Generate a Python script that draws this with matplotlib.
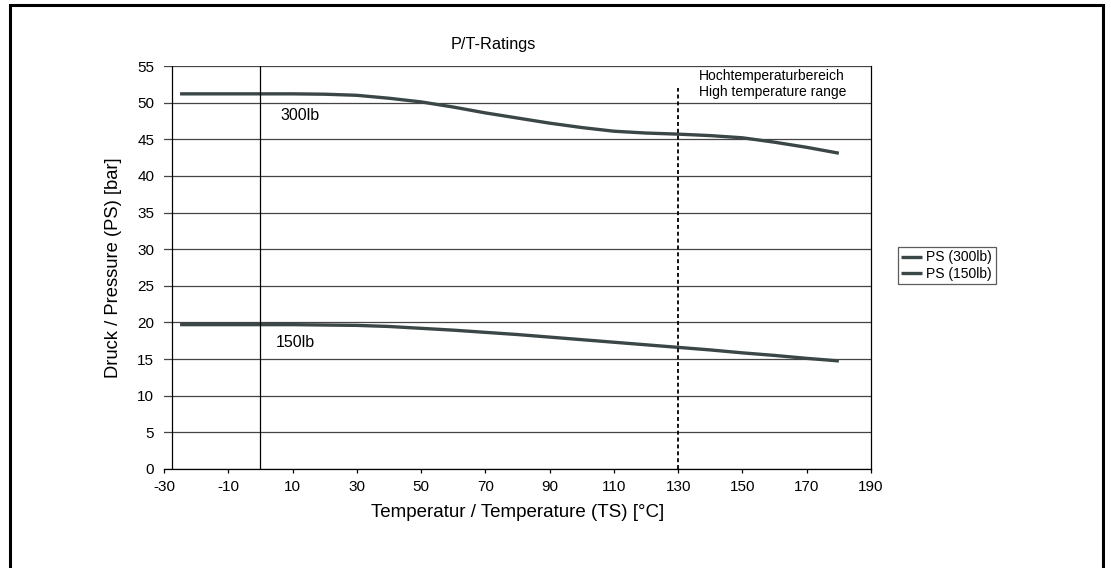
import matplotlib.pyplot as plt
from matplotlib.patches import Rectangle

plt.rcParams['font.family'] = ['Liberation Sans', 'DejaVu Sans']
plt.rcParams['axes.unicode_minus'] = False

# temperatures in degC
temps = [-25, -10, 0, 10, 20, 30, 40, 50, 60, 70, 80, 90, 100, 110, 120, 130, 140, 150, 160, 170, 180]
ps_300 = [51.2, 51.2, 51.2, 51.2, 51.15, 51.0, 50.6, 50.1, 49.4, 48.6, 47.9, 47.2, 46.6, 46.1, 45.85, 45.7, 45.5, 45.2, 44.6, 43.9, 43.1]
ps_150 = [19.7, 19.7, 19.7, 19.7, 19.65, 19.6, 19.45, 19.2, 18.95, 18.65, 18.35, 18.0, 17.65, 17.3, 16.95, 16.6, 16.25, 15.85, 15.5, 15.1, 14.75]
series_names = ["PS (300lb)", "PS (150lb)"]
xticks = list(range(-30, 191, 20))
yticks = list(range(0, 56, 5))

line_col = "#3b4746"

fig = plt.figure(figsize=(11.11, 5.68), dpi=100)
ax = fig.add_axes([164/1111, 1-469/568, (871-164)/1111, (469-66)/568])

l1, = ax.plot(temps, ps_300, color=line_col, lw=2.4, solid_capstyle='butt', label=series_names[0])
l2, = ax.plot(temps, ps_150, color=line_col, lw=2.4, solid_capstyle='butt', label=series_names[1])

ax.set_xlim(-30, 190)
ax.set_ylim(0, 55)
ax.set_xticks(xticks)
ax.set_yticks(yticks)
ax.grid(axis='y', color='#444444', lw=0.9)
ax.set_axisbelow(True)

# y axis crossing and 0 degC line
ax.axvline(-27.5, color='black', lw=0.9)
ax.axvline(0, color='black', lw=0.9)
ax.vlines(130, 0, 52, colors='black', linestyles=(0, (2.2, 1.6)), lw=1.3)

for s in ['top', 'left']:
    ax.spines[s].set_visible(False)
ax.spines['right'].set_color('black')
ax.spines['right'].set_linewidth(0.9)
ax.spines['bottom'].set_color('black')
ax.spines['bottom'].set_linewidth(0.9)

ax.tick_params(axis='y', length=0, pad=7, labelsize=11)
ax.tick_params(axis='x', length=3, width=0.9, pad=5, labelsize=11)

ax.text(6.2, 48.2, "300lb", fontsize=11.5, va='center', ha='left')
ax.text(4.7, 17.2, "150lb", fontsize=11.5, va='center', ha='left')
ax.text(136.5, 54.6, "Hochtemperaturbereich\nHigh temperature range", fontsize=10,
        va='top', ha='left', linespacing=1.2)

ax.set_xlabel("Temperatur / Temperature (TS) [°C]", fontsize=13.5, labelpad=7)
ax.set_ylabel("Druck / Pressure (PS) [bar]", fontsize=13.2, labelpad=11)
fig.text(493/1111, 1-45/568, "P/T-Ratings", fontsize=11.7, ha='center', va='center')

leg = fig.legend(handles=[l1, l2], loc='upper left', bbox_to_anchor=(898/1111, 1-247/568),
                 fontsize=10, frameon=True, fancybox=False, handlelength=1.5,
                 handletextpad=0.3, borderpad=0.25, labelspacing=0.15, borderaxespad=0)
leg.get_frame().set_edgecolor('#333333')
leg.get_frame().set_linewidth(0.9)

# outer chart border
fig.patches.append(Rectangle((10/1111, -0.05), (1103-10)/1111, 1.05-5/568,
                             transform=fig.transFigure, fill=False, ec='black', lw=2.2))

fig.savefig("out.png", dpi=100)
